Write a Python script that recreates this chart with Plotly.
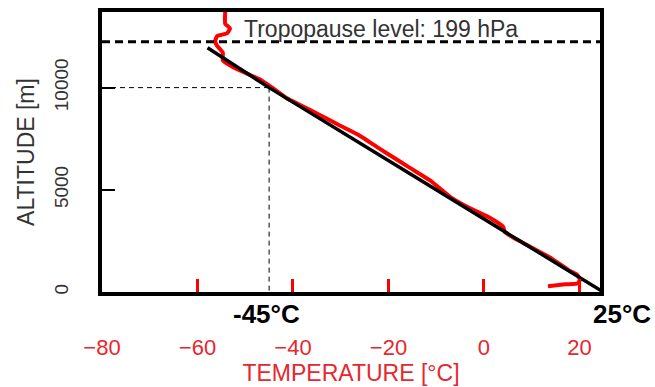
import plotly.graph_objects as go

# ---- data ----
profile_temp = [13.4, 17.0, 19.7, 20.1, 19.5, 18.0, 13.8, 8.2, 4.4, 4.0, 1.3, -2.9, -7.1,
                -11.3, -15.5, -18.6, -21.8, -26.0, -30.2, -34.3, -38.5, -41.3, -44.8,
                -46.9, -49.6, -52.6, -54.7, -54.7, -55.9, -56.3, -55.9, -53.8, -53.2,
                -54.2, -54.2]
profile_alt = [282, 376, 424, 612, 847, 1035, 1694, 2400, 2918, 3200, 3624, 4094, 4659,
               5459, 6071, 6530, 7000, 7650, 8150, 8650, 9150, 9480, 10071,
               10400, 10683, 11012, 11341, 11718, 12047, 12283, 12518, 12659, 12894,
               13130, 13700]

lapse_temp = [25, -45, -57.9]
lapse_alt = [0, 10000, 11950]

ref_temp = -45
ref_alt = 10000
tropopause_alt = 12250
tropopause_label = "Tropopause level: 199 hPa"

x_ticks = [-80, -60, -40, -20, 0, 20]
x_ticktext = ["−80", "−60", "−40", "−20", "0", "20"]
y_ticks = [0, 5000, 10000]
y_ticktext = ["0", "5000", "10000"]
x_range = [-80, 24.3]
y_range = [0, 13700]

FONT = "Liberation Sans, Arial, sans-serif"
RED = "#ff0000"
LABEL_RED = "#e8262e"
GREY = "#333333"

fig = go.Figure()

# crosshair at -45 C / 10000 m
fig.add_trace(go.Scatter(x=[x_range[0], ref_temp], y=[ref_alt, ref_alt], mode="lines",
                         line=dict(color="black", width=1, dash="5px,4px"),
                         showlegend=False, hoverinfo="skip"))
fig.add_trace(go.Scatter(x=[ref_temp, ref_temp], y=[ref_alt, -450], mode="lines",
                         line=dict(color="black", width=1, dash="5px,4px"),
                         showlegend=False, hoverinfo="skip", cliponaxis=False))

# measured profile
fig.add_trace(go.Scatter(x=profile_temp, y=profile_alt, mode="lines",
                         line=dict(color=RED, width=4, shape="spline", smoothing=0.4),
                         showlegend=False))

# lapse-rate line
fig.add_trace(go.Scatter(x=lapse_temp, y=lapse_alt, mode="lines",
                         line=dict(color="black", width=3.5),
                         showlegend=False, cliponaxis=False))

# tropopause level
fig.add_trace(go.Scatter(x=[x_range[0], 26.4], y=[tropopause_alt, tropopause_alt], mode="lines",
                         line=dict(color="black", width=3, dash="8px,5px"),
                         showlegend=False, hoverinfo="skip", cliponaxis=False))

fig.add_annotation(x=-21.5, y=12850, xref="x", yref="y", text=tropopause_label,
                   showarrow=False, font=dict(family=FONT, size=23, color=GREY))
fig.add_annotation(x=ref_temp, y=0, xref="x", yref="paper", text="<b>-45°C</b>",
                   showarrow=False, yanchor="middle", yshift=-22, xshift=-3,
                   font=dict(family=FONT, size=26, color="black"))
fig.add_annotation(x=1, y=0, xref="paper", yref="paper", text="<b>25°C</b>",
                   showarrow=False, xanchor="center", yanchor="middle", yshift=-22, xshift=22,
                   font=dict(family=FONT, size=26, color="black"))

fig.update_xaxes(range=x_range, tickvals=x_ticks, ticktext=x_ticktext,
                 ticks="inside", ticklen=13, tickwidth=2.5, tickcolor=RED,
                 tickfont=dict(family=FONT, size=22, color=LABEL_RED),
                 ticklabelstandoff=33,
                 showline=True, mirror=True, linecolor="black", linewidth=4,
                 showgrid=False, zeroline=False,
                 title=dict(text="TEMPERATURE [°C]", font=dict(family=FONT, size=23, color=LABEL_RED),
                            standoff=2))
fig.update_yaxes(range=y_range, tickvals=y_ticks, ticktext=y_ticktext,
                 ticks="inside", ticklen=13, tickwidth=2, tickcolor="black",
                 tickangle=-90,
                 tickfont=dict(family=FONT, size=19, color=GREY),
                 ticklabelstandoff=22,
                 showline=True, mirror=True, linecolor="black", linewidth=4,
                 showgrid=False, zeroline=False,
                 title=dict(text="ALTITUDE [m]", font=dict(family=FONT, size=23, color=GREY),
                            standoff=11))

fig.update_layout(width=655, height=387, margin=dict(l=102, r=55, t=8, b=88),
                  paper_bgcolor="white", plot_bgcolor="white", showlegend=False)

fig.write_html("out.html")
